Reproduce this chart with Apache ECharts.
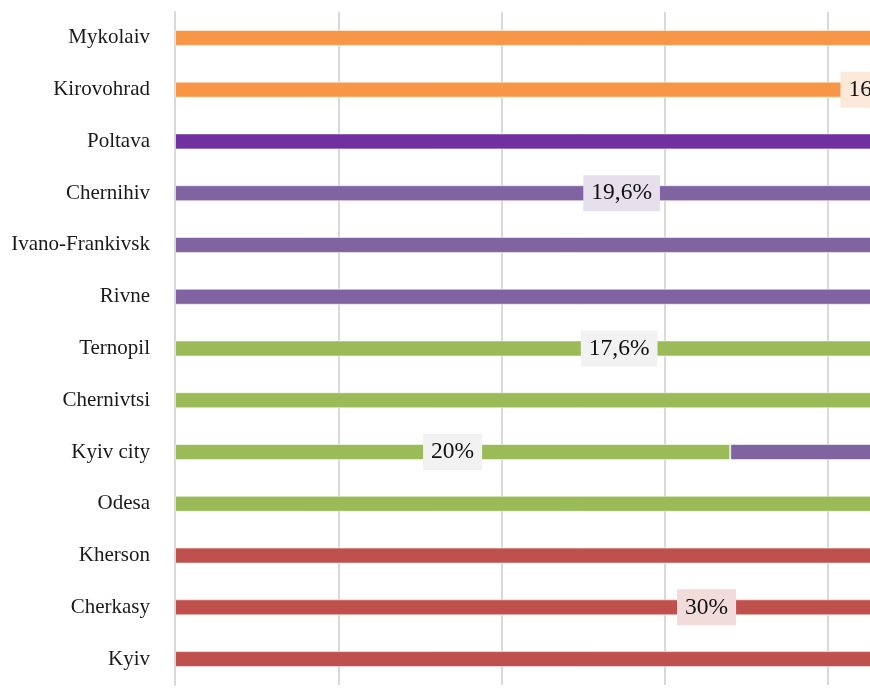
<!DOCTYPE html>
<html>
<head>
<meta charset="utf-8">
<script src="https://cdn.jsdelivr.net/npm/echarts@6/dist/echarts.min.js"></script>
<style>
html,body{margin:0;padding:0;background:#fff;width:870px;height:691px;overflow:hidden}
#wrap{width:870px;height:691px;overflow:hidden;position:relative}
#c{width:1900px;height:691px;position:absolute;left:0;top:0}
</style>
</head>
<body>
<div id="wrap"><div id="c"></div></div>
<script>
// Categories, bottom to top
var categories = ["Kyiv","Cherkasy","Kherson","Odesa","Kyiv city","Chernivtsi","Ternopil","Rivne","Ivano-Frankivsk","Chernihiv","Poltava","Kirovohrad","Mykolaiv"];

// Segment lengths (bars run past the visible right edge)
var redValues        = [100, 65.1, 100, null, null, null, null, null, null, null, null, null, null];
var greenValues      = [null, null, null, 100, 34, 100, 54.4, null, null, null, null, null, null];
var purpleValues     = [null, null, null, null, 66, null, null, 100, 100, 54.7, null, null, null];
var darkPurpleValues = [null, null, null, null, null, null, null, null, null, null, 100, null, null];
var orangeValues     = [null, null, null, null, null, null, null, null, null, null, null, 86.2, 100];

// Data label texts
var redLabels        = ["", "30%", "", "", "", "", "", "", "", "", "", "", ""];
var greenLabels      = ["", "", "", "", "20%", "", "17,6%", "", "", "", "", "", ""];
var purpleLabels     = ["", "", "", "", "", "", "", "", "", "19,6%", "", "", ""];
var darkPurpleLabels = ["", "", "", "", "", "", "", "", "", "", "", "", ""];
var orangeLabels     = ["", "", "", "", "", "", "", "", "", "", "", "16,5%", ""];

var FONT = '"Liberation Serif","Times New Roman",serif';

function makeSeries(name, values, labels, color, labelBg) {
  return {
    name: name,
    type: 'bar',
    stack: 'total',
    barWidth: 16,
    itemStyle: { color: color, borderColor: 'rgba(255,255,255,0.55)', borderWidth: 1 },
    data: values.map(function (v, i) {
      var d = { value: v };
      if (labels[i]) {
        d.label = {
          show: true,
          position: 'inside',
          formatter: labels[i],
          fontFamily: FONT,
          fontSize: 23.5,
          color: '#111',
          backgroundColor: labelBg,
          padding: [6, 8, 6, 8],
          lineHeight: 24
        };
      }
      return d;
    }),
    label: { show: false }
  };
}

var chart = echarts.init(document.getElementById('c'), null, { renderer: 'canvas' });
chart.setOption({
  animation: false,
  grid: { left: 175, width: 1633, top: 12, height: 673, containLabel: false },
  xAxis: {
    type: 'value', min: 0, max: 100, interval: 10,
    axisLabel: { show: false }, axisLine: { show: false }, axisTick: { show: false },
    splitLine: { show: true, lineStyle: { color: '#d9d9d9', width: 2 } }
  },
  yAxis: {
    type: 'category', data: categories,
    axisLine: { show: true, lineStyle: { color: '#d9d9d9', width: 2 } },
    axisTick: { show: false },
    axisLabel: { fontFamily: FONT, fontSize: 21, color: '#1a1a1a', margin: 25 }
  },
  series: [
    makeSeries('red', redValues, redLabels, '#c0504d', '#f2dcdb'),
    makeSeries('green', greenValues, greenLabels, '#9bbb59', '#f2f2f2'),
    makeSeries('purple', purpleValues, purpleLabels, '#8064a2', '#e5e0ec'),
    makeSeries('darkPurple', darkPurpleValues, darkPurpleLabels, '#7030a0', '#e2d5ec'),
    makeSeries('orange', orangeValues, orangeLabels, '#f79646', '#fde9d9')
  ]
});
</script>
</body>
</html>
